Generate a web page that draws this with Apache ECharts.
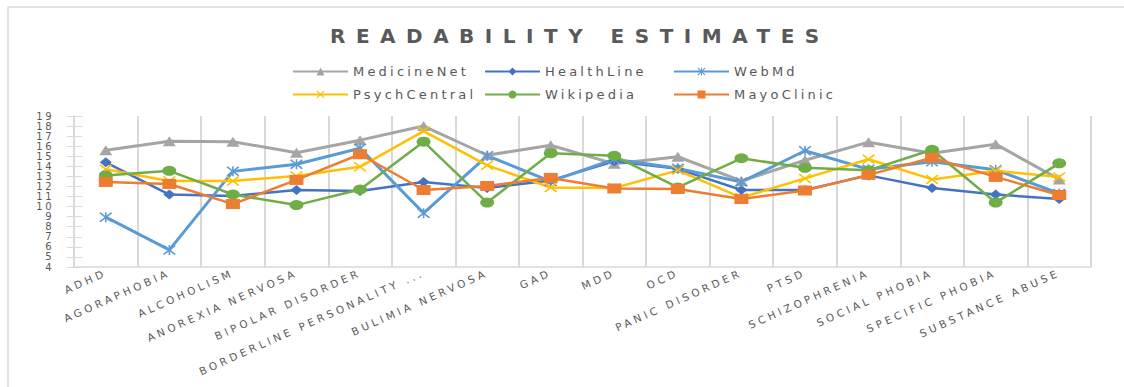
<!DOCTYPE html>
<html>
<head>
<meta charset="utf-8">
<script src="https://cdn.jsdelivr.net/npm/echarts@6/dist/echarts.min.js"></script>
<style>
html,body{margin:0;padding:0;background:#fff;}
#main{width:1124px;height:387px;}
</style>
</head>
<body>
<div id="main"></div>
<script>
const categories = ['ADHD','AGORAPHOBIA','ALCOHOLISM','ANOREXIA NERVOSA','BIPOLAR DISORDER','BORDERLINE PERSONALITY ...','BULIMIA NERVOSA','GAD','MDD','OCD','PANIC DISORDER','PTSD','SCHIZOPHRENIA','SOCIAL PHOBIA','SPECIFIC PHOBIA','SUBSTANCE ABUSE'];
const medicineNet  = [15.6, 16.5, 16.45, 15.35, 16.6, 18.0, 15.1, 16.1, 14.25, 14.95, 12.55, 14.6, 16.4, 15.3, 16.2, 12.7];
const healthLine   = [14.4, 11.2, 11.05, 11.65, 11.55, 12.45, 11.85, 12.6, 14.5, 13.75, 11.65, 11.65, 13.1, 11.85, 11.2, 10.75];
const webMd        = [8.95, 5.7, 13.5, 14.2, 15.8, 9.35, 15.05, 12.5, 14.7, 13.8, 12.45, 15.55, 13.7, 14.45, 13.65, 11.3];
const psychCentral = [13.7, 12.55, 12.55, 13.05, 13.95, 17.5, 14.1, 11.9, 11.85, 13.6, 10.9, 12.8, 14.7, 12.7, 13.55, 12.95];
const wikipedia    = [13.1, 13.55, 11.2, 10.15, 11.7, 16.45, 10.4, 15.3, 15.05, 11.9, 14.8, 13.85, 13.6, 15.65, 10.4, 14.3];
const mayoClinic   = [12.45, 12.25, 10.25, 12.65, 15.2, 11.65, 12.05, 12.85, 11.8, 11.75, 10.75, 11.6, 13.15, 14.85, 12.95, 11.15];
const yMin = 4, yMax = 19, yStep = 1;
const titleText = 'READABILITY ESTIMATES';
const seriesNames = ['MedicineNet','HealthLine','WebMd','PsychCentral','Wikipedia','MayoClinic'];

const FONT = 'DejaVu Sans';
const XPATH = 'path://M0,1L1,0L5,4L9,0L10,1L6,5L10,9L9,10L5,6L1,10L0,9L4,5Z';
const STARPATH = 'path://M0,1L1,0L5,4L9,0L10,1L6,5L10,9L9,10L5,6L1,10L0,9L4,5Z M4.4,0L5.6,0L5.6,10L4.4,10Z';

const seriesDefs = [
  {name:seriesNames[0], data:medicineNet, color:'#A5A5A5', symbol:'triangle', size:[13,10], width:3},
  {name:seriesNames[1], data:healthLine, color:'#4472C4', symbol:'diamond', size:[12,10], width:2.5},
  {name:seriesNames[2], data:webMd, color:'#5B9BD5', symbol:STARPATH, size:[13,10], width:3},
  {name:seriesNames[3], data:psychCentral, color:'#FFC000', symbol:XPATH, size:[13,10], width:2.5},
  {name:seriesNames[4], data:wikipedia, color:'#70AD47', symbol:'circle', size:[14,10], width:2.5},
  {name:seriesNames[5], data:mayoClinic, color:'#ED7D31', symbol:'rect', size:[14,10], width:2.5}
];

const legendPos = [[287,60],[479,60],[668,60],[287,83],[479,83],[668,83]];

const chart = echarts.init(document.getElementById('main'), null, {renderer:'svg'});
chart.setOption({
  animation:false,
  backgroundColor:'#fff',
  textStyle:{fontFamily:FONT},
  title:{text:titleText, left:325, top:21, textStyle:{fontSize:20, fontWeight:'bold', color:'#595959', fontFamily:FONT}},
  graphic:[{type:'rect', shape:{x:8,y:7,width:1300,height:500}, style:{fill:'none', stroke:'#D9D9D9', lineWidth:1.5}, silent:true, z:-1}],
  legend: seriesDefs.map((s,i)=>({
    data:[s.name], left:legendPos[i][0], top:legendPos[i][1], itemWidth:55, itemHeight:10, itemGap:0,
    textStyle:{fontSize:13, color:'#595959', fontFamily:FONT}, selectedMode:false
  })),
  grid:{left:74, right:33, top:116, bottom:120},
  xAxis:{
    type:'category', data:categories, boundaryGap:true,
    axisLine:{lineStyle:{color:'#D9D9D9', width:1.5}},
    axisTick:{show:false},
    splitLine:{show:true, lineStyle:{color:'#D9D9D9', width:2}},
    axisLabel:{interval:0, rotate:24, fontSize:10.5, color:'#595959', margin:5, fontFamily:FONT}
  },
  yAxis:[{
    type:'value', min:yMin, max:yMax, interval:yStep,
    axisLine:{show:true, lineStyle:{color:'#D9D9D9', width:1.5}},
    axisTick:{show:true, length:7, lineStyle:{color:'#D9D9D9', width:1}},
    splitLine:{show:false},
    axisLabel:{fontSize:10, lineHeight:10, color:'#595959', margin:20, fontFamily:FONT, showMinLabel:true, showMaxLabel:true, hideOverlap:false}
  },{
    type:'value', min:yMin, max:yMax, interval:yStep, position:'left',
    axisLine:{show:false},
    axisTick:{show:true, inside:true, length:8, lineStyle:{color:'#D9D9D9', width:1}},
    splitLine:{show:false},
    axisLabel:{show:false}
  }],
  series: seriesDefs.map(s=>({
    name:s.name, type:'line', data:s.data, yAxisIndex:0,
    symbol:s.symbol, symbolSize:s.size, showAllSymbol:true,
    itemStyle:{color:s.color}, lineStyle:{color:s.color, width:s.width}
  }))
});

function spaceText(){
  document.querySelectorAll('#main svg text').forEach(t=>{
    const s = t.textContent;
    let ls = '1.5px';
    if(s.indexOf('READABILITY')>=0) ls = '10.5px';
    else if(categories.indexOf(s)>=0) ls = '3.4px';
    else if(seriesNames.indexOf(s)>=0) ls = '3.2px';
    else if(/^\d+$/.test(s)) ls = '2.5px';
    t.style.letterSpacing = ls;
  });
}
chart.on('finished', spaceText);
setTimeout(spaceText, 50);
setTimeout(spaceText, 300);
</script>
</body>
</html>
